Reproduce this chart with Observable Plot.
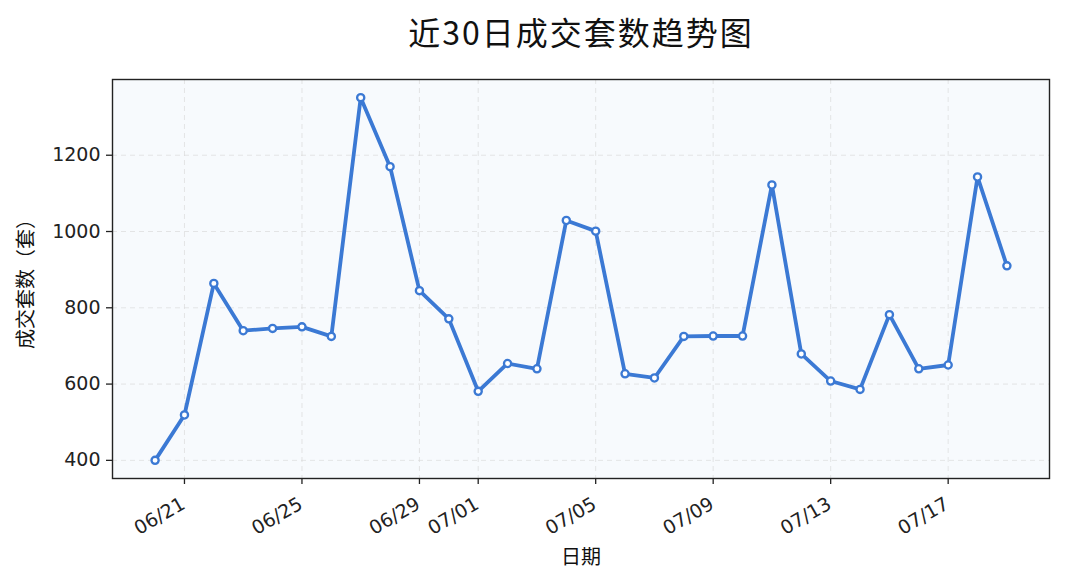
<!DOCTYPE html>
<html>
<head>
<meta charset="utf-8">
<script src="https://cdn.jsdelivr.net/npm/d3@7"></script>
<script src="https://cdn.jsdelivr.net/npm/@observablehq/plot@0.6"></script>
<style>
  html, body { margin: 0; padding: 0; background: #fff; }
  #wrap { width: 1065px; }
  #title { height: 60px; position: relative;
    font-family: "Noto Sans CJK SC", sans-serif; font-size: 32px; color: #111; letter-spacing: 2px; }
  #title span { position: absolute; left: 581px; top: 31px; transform: translate(-50%, -50%); white-space: nowrap; line-height: 1; }
  svg { display: block; }
</style>
</head>
<body>
<div id="wrap">
  <div id="title"><span>近30日成交套数趋势图</span></div>
  <div id="chart"></div>
</div>
<script>
const dates = ["06/20","06/21","06/22","06/23","06/24","06/25","06/26","06/27","06/28","06/29","06/30",
  "07/01","07/02","07/03","07/04","07/05","07/06","07/07","07/08","07/09","07/10",
  "07/11","07/12","07/13","07/14","07/15","07/16","07/17","07/18","07/19"];
const values = [400, 519, 864, 740, 746, 750, 725, 1351, 1170, 845, 771,
  581, 654, 640, 1029, 1001, 627, 616, 725, 726, 726,
  1122, 679, 608, 586, 782, 640, 650, 1143, 910];
const xTickLabels = ["06/21","06/25","06/29","07/01","07/05","07/09","07/13","07/17"];
const yTicks = [400, 600, 800, 1000, 1200];
const year = 2024;

const parse = s => { const [m, d] = s.split("/").map(Number); return new Date(Date.UTC(year, m - 1, d)); };
const data = dates.map((d, i) => ({date: parse(d), value: values[i]}));
const xTicks = xTickLabels.map(parse);
const fmt = d3.utcFormat("%m/%d");
const x0 = parse(dates[0]), x1 = parse(dates[dates.length - 1]);
const span = (x1 - x0);
const xDomain = [new Date(+x0 - span * 0.05), new Date(+x1 + span * 0.05)];
const vmin = d3.min(values), vmax = d3.max(values), vr = vmax - vmin;
const yDomain = [vmin - vr * 0.05, vmax + vr * 0.05];

const blue = "#3b79d4";
const tickFont = "'DejaVu Sans', 'Liberation Sans', sans-serif";
const cjkFont = "'Noto Sans CJK SC', sans-serif";

const chart = Plot.plot({
  width: 1065,
  height: 527,
  marginLeft: 112,
  marginRight: 16,
  marginTop: 19,
  marginBottom: 109,
  style: {fontFamily: tickFont, fontSize: "19px", color: "#222", background: "#fff"},
  x: {type: "utc", domain: xDomain, ticks: xTicks, tickFormat: fmt},
  y: {domain: yDomain, ticks: yTicks},
  marks: [
    Plot.frame({fill: "#f7fafd", stroke: null}),
    Plot.gridY(yTicks, {stroke: "#d8d8d8", strokeOpacity: 0.8, strokeDasharray: "5,4", strokeWidth: 0.8}),
    Plot.gridX(xTicks, {stroke: "#d8d8d8", strokeOpacity: 0.8, strokeDasharray: "5,4", strokeWidth: 0.8}),
    Plot.axisY(yTicks, {tickSize: 6, tickPadding: 6, tickFormat: "d", fontSize: 19, fontFamily: tickFont, label: null, stroke: "#222", strokeWidth: 1.3, fill: "#222"}),
    Plot.axisX(xTicks, {tickSize: 6, tickFormat: null, text: null, label: null, stroke: "#222", strokeWidth: 1.3}),
    Plot.text(xTicks, {x: d => d, text: d => fmt(d), frameAnchor: "bottom", dy: 24, dx: -1, rotate: -30, textAnchor: "end", lineAnchor: "middle", fontSize: 19, fontFamily: tickFont, fill: "#222"}),
    Plot.text(["成交套数（套）"], {frameAnchor: "left", dx: -86, rotate: -90, textAnchor: "middle", lineAnchor: "middle", fontSize: 20, fontFamily: cjkFont, fill: "#111"}),
    Plot.text(["日期"], {frameAnchor: "bottom", dy: 79, textAnchor: "middle", lineAnchor: "middle", fontSize: 20, fontFamily: cjkFont, fill: "#111"}),
    Plot.line(data, {x: "date", y: "value", stroke: blue, strokeWidth: 3.8, strokeLinejoin: "round"}),
    Plot.dot(data, {x: "date", y: "value", r: 3.6, fill: "white", stroke: blue, strokeWidth: 2.3}),
    Plot.frame({stroke: "#222", strokeWidth: 1.4})
  ]
});
document.getElementById("chart").appendChild(chart);
</script>
</body>
</html>
